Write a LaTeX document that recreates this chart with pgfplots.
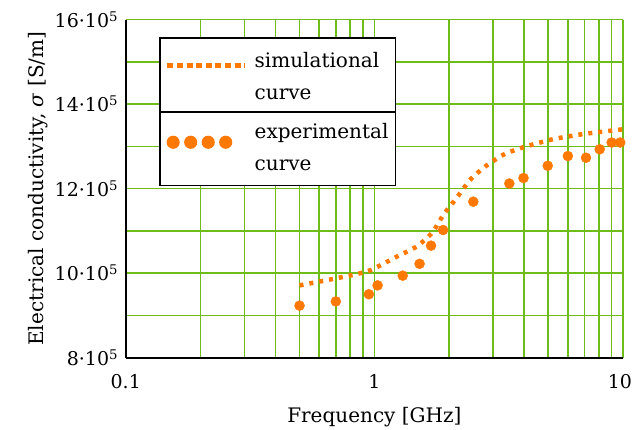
\documentclass[border=0pt]{standalone}
\usepackage{pgfplots}
\pgfplotsset{compat=1.18}
\usepackage{fontspec}
\setmainfont{DejaVu Serif}
\definecolor{gridgreen}{RGB}{110,188,25}
\definecolor{myorange}{RGB}{255,120,0}
\begin{document}
\begin{tikzpicture}
\begin{axis}[
  name=ax,
  scale only axis, width=497pt, height=338pt,
  xmode=log, xmin=0.1, xmax=10, ymin=800000, ymax=1600000,
  axis x line=bottom, axis y line=left,
  axis line style={black, line width=2pt, -},
  xtick={0.1,1,10}, xticklabels={0.1,1,\hspace{18pt}\llap{10}},
  ytick={800000,1000000,1200000,1400000,1600000},
  yticklabels={8·10\textsuperscript{5},10·10\textsuperscript{5},12·10\textsuperscript{5},14·10\textsuperscript{5},16·10\textsuperscript{5}},
  minor ytick={900000,1100000,1300000,1500000},
  scaled y ticks=false,
  grid=both,
  major grid style={gridgreen, line width=1.6pt},
  minor grid style={gridgreen, line width=1.6pt},
  major tick style={draw=none}, minor tick style={draw=none},
  tick label style={font=\fontsize{19}{22}\selectfont},
  xticklabel style={yshift=-11pt},
  yticklabel style={xshift=-2pt},
  label style={font=\fontsize{20}{24}\selectfont},
  xlabel={Frequency [GHz]},
  ylabel={Electrical conductivity, \textit{σ} [S/m]},
  xlabel style={yshift=-12pt},
  ylabel style={yshift=0pt},
  legend cell align=left,
  legend style={name=leg, at={(axis description cs:0.0676,0.947)}, anchor=north west,
    draw=black, line width=1.5pt, fill=white,
    font=\fontsize{20}{32}\selectfont,
    cells={align=left},
    inner xsep=5pt, inner ysep=12pt, row sep=18pt, column sep=6pt},
]
\addplot[myorange, line width=4.5pt, dash pattern=on 4pt off 6pt, smooth, tension=0.4,
  legend image code/.code={\draw[myorange, line width=4.5pt, dash pattern=on 6pt off 3.6pt] (0pt,11pt) -- (77pt,11pt);}]
coordinates {
(0.5,971000) (0.706,988000) (0.946,1005000) (1.23,1039000) (1.48,1063000)
(1.71,1096000) (1.895,1138000) (2.02,1159000) (2.15,1179000) (2.43,1221000)
(2.79,1252000) (3.3,1280000) (3.98,1298000) (5.25,1317000) (6.93,1329000)
(9.58,1339000) (10,1340000)
};
\addlegendentry{simulational\\curve}
\addplot[only marks, mark=*, mark size=5pt, color=myorange, mark options={draw=myorange, fill=myorange},
  legend image code/.code={\foreach \i in {0,1,2,3} {\fill[myorange] (5.8pt+\i*17.5pt,5pt) circle (5.8pt);}}]
coordinates {
(0.5,923000) (0.7,933000) (0.95,950000) (1.03,971000) (1.3,994000)
(1.52,1022000) (1.69,1065000) (1.89,1102000) (2.5,1169000) (3.49,1212000)
(3.98,1225000) (4.98,1254000) (6.0,1277000) (7.1,1273000) (8.06,1293000)
(9.0,1309000) (9.75,1309000)
};
\addlegendentry{experimental\\curve}
\end{axis}
\draw[line width=1.5pt] (leg.west) -- (leg.east);
\pgfresetboundingbox
\path ([shift={(-125.7pt,-72.3pt)}]ax.south west) rectangle ([shift={(10pt,19.5pt)}]ax.north east);
\end{tikzpicture}
\end{document}
